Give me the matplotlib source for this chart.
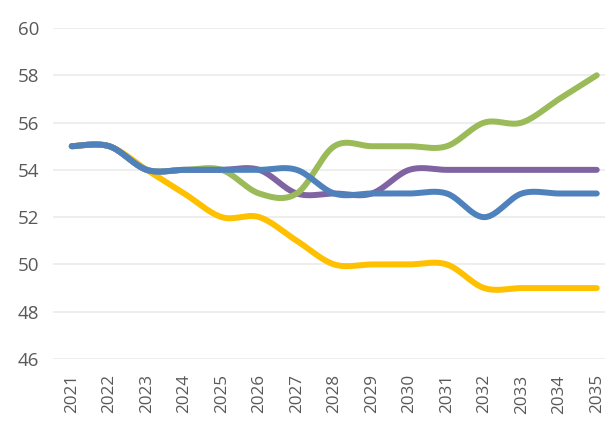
import numpy as np
import matplotlib
matplotlib.use("Agg")
import matplotlib.pyplot as plt

plt.rcParams['font.family'] = ['Open Sans', 'DejaVu Sans']

years = list(range(2021, 2036))
yellow = [55, 55, 54, 53, 52, 52, 51, 50, 50, 50, 50, 49, 49, 49, 49]
purple = [55, 55, 54, 54, 54, 54, 53, 53, 53, 54, 54, 54, 54, 54, 54]
green = [55, 55, 54, 54, 54, 53, 53, 55, 55, 55, 55, 56, 56, 57, 58]
blue = [55, 55, 54, 54, 54, 54, 54, 53, 53, 53, 53, 52, 53, 53, 53]


def smooth(x, y, n=30):
    # Catmull-Rom style bezier, like excel's "smoothed line"
    x = np.asarray(x, float)
    y = np.asarray(y, float)
    px = np.concatenate([[x[0]], x, [x[-1]]])
    py = np.concatenate([[y[0]], y, [y[-1]]])
    xs, ys = [], []
    t = np.linspace(0, 1, n)
    for i in range(1, len(px) - 2):
        p0 = np.array([px[i], py[i]])
        p3 = np.array([px[i + 1], py[i + 1]])
        p1 = p0 + (np.array([px[i + 1], py[i + 1]]) - np.array([px[i - 1], py[i - 1]])) / 6
        p2 = p3 - (np.array([px[i + 2], py[i + 2]]) - np.array([px[i], py[i]])) / 6
        b = ((1 - t) ** 3)[:, None] * p0 + (3 * (1 - t) ** 2 * t)[:, None] * p1 \
            + (3 * (1 - t) * t ** 2)[:, None] * p2 + (t ** 3)[:, None] * p3
        xs.extend(b[:, 0])
        ys.extend(b[:, 1])
    return xs, ys


fig = plt.figure(figsize=(6.05, 4.29), dpi=100)
ax = fig.add_axes([53 / 605, (429 - 359) / 429, 1 - 53 / 605, (359 - 28) / 429])

for vals, col in [(yellow, '#FFC000'), (purple, '#8064A2'),
                  (green, '#9BBB59'), (blue, '#4F81BD')]:
    sx, sy = smooth(years, vals)
    ax.plot(sx, sy, color=col, lw=4.3, solid_capstyle='round', zorder=3)

ax.set_xlim(2020.5, 2020.5 + (605 - 53) / 37.5)
ax.set_ylim(46, 60)
ax.set_yticks(range(46, 61, 2))
ax.set_xticks(years)
ax.set_xticklabels([str(y) for y in years], rotation=90)
ax.grid(axis='y', color='#EBEBEB', lw=1.2)
ax.set_axisbelow(True)
for s in ax.spines.values():
    s.set_visible(False)
ax.tick_params(axis='y', length=0, pad=10, labelsize=13.5, labelcolor='#595959')
ax.tick_params(axis='x', length=0, pad=11, labelsize=12.3, labelcolor='#595959')

fig.savefig('out.png', dpi=100)
